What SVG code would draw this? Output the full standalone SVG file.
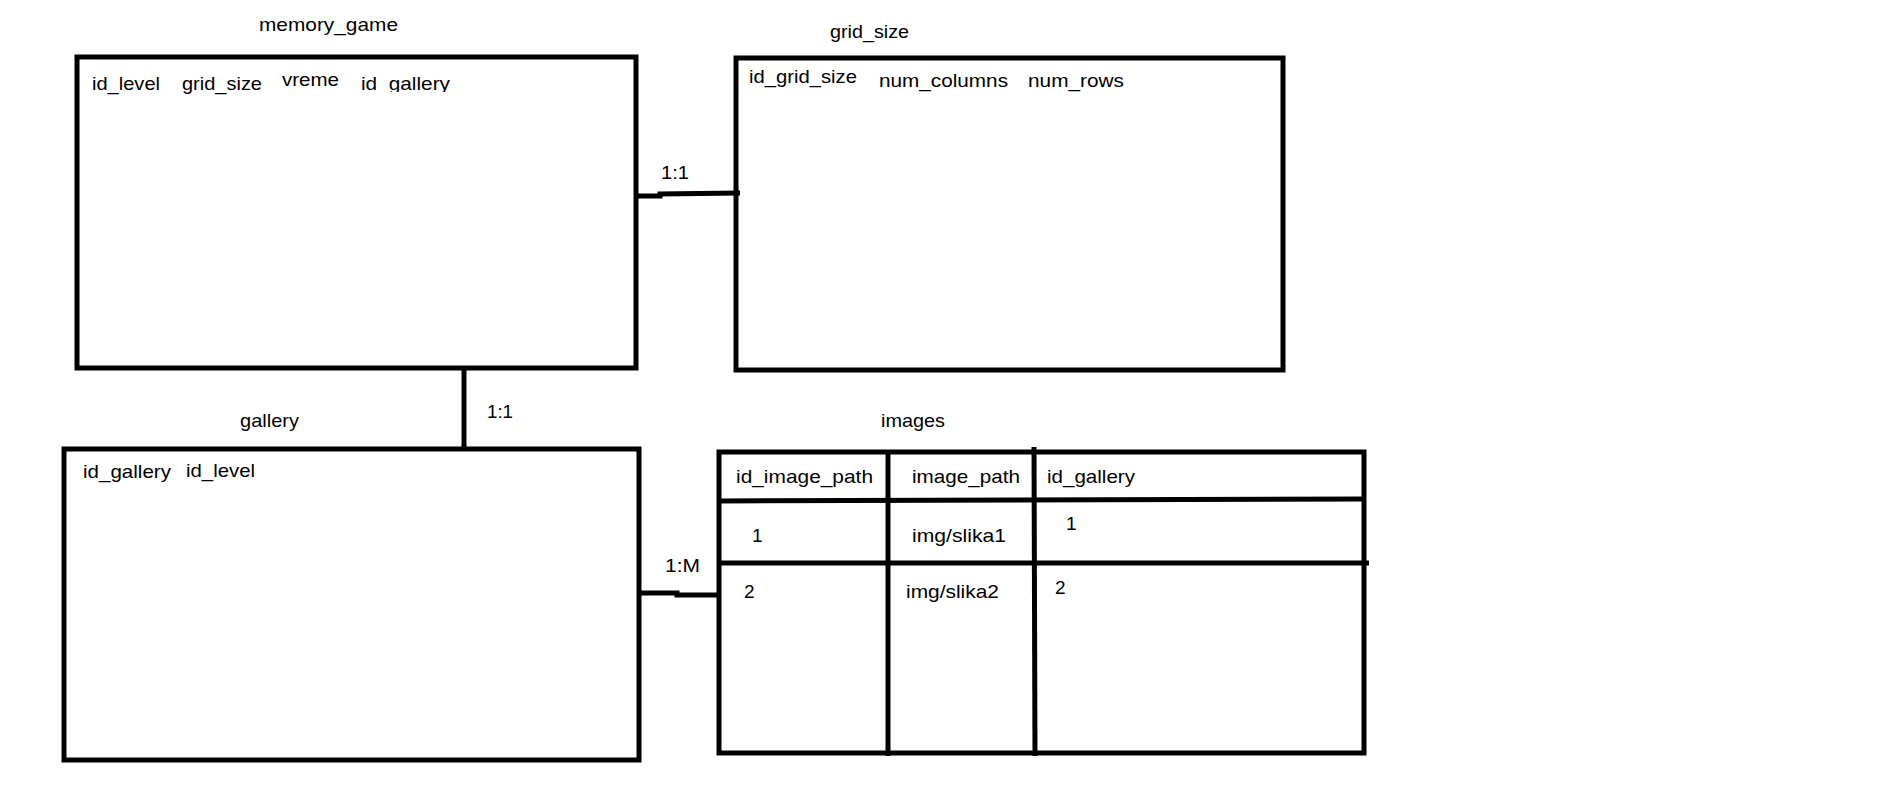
<svg xmlns="http://www.w3.org/2000/svg" width="1891" height="791" viewBox="0 0 1891 791">
<style>
.box{fill:none;stroke:#000;stroke-width:5}
.ln{fill:none;stroke:#000;stroke-width:5}
text{font-family:"Liberation Sans",Arial,sans-serif;font-size:19px;fill:#000}
</style>
<defs>
<clipPath id="clipIdG"><rect x="350" y="60" width="120" height="32"/></clipPath>
</defs>
<rect width="1891" height="791" fill="#fff"/>
<g id="memory_game">
<text x="259" y="31" textLength="139" lengthAdjust="spacingAndGlyphs">memory_game</text>
<rect class="box" x="77" y="57" width="559" height="311"/>
<text x="92" y="90" textLength="68" lengthAdjust="spacingAndGlyphs">id_level</text>
<text x="182" y="90" textLength="80" lengthAdjust="spacingAndGlyphs">grid_size</text>
<text x="282" y="86" textLength="57" lengthAdjust="spacingAndGlyphs">vreme</text>
<text x="361" y="90" textLength="89" lengthAdjust="spacingAndGlyphs" clip-path="url(#clipIdG)">id_gallery</text>
</g>
<g id="grid_size">
<text x="830" y="38" textLength="79" lengthAdjust="spacingAndGlyphs">grid_size</text>
<rect class="box" x="736" y="58" width="547" height="312"/>
<text x="749" y="83" textLength="108" lengthAdjust="spacingAndGlyphs">id_grid_size</text>
<text x="879" y="87" textLength="129" lengthAdjust="spacingAndGlyphs">num_columns</text>
<text x="1028" y="87" textLength="96" lengthAdjust="spacingAndGlyphs">num_rows</text>
</g>
<g id="gallery">
<text x="240" y="427" textLength="59" lengthAdjust="spacingAndGlyphs">gallery</text>
<rect class="box" x="64" y="449" width="575" height="311"/>
<text x="83" y="478" textLength="88" lengthAdjust="spacingAndGlyphs">id_gallery</text>
<text x="186" y="477" textLength="69" lengthAdjust="spacingAndGlyphs">id_level</text>
</g>
<g id="images">
<text x="881" y="427" textLength="64" lengthAdjust="spacingAndGlyphs">images</text>
<rect class="box" x="719" y="452" width="645" height="301"/>
<line class="ln" x1="888" y1="452" x2="888" y2="756"/>
<line class="ln" x1="1034" y1="447" x2="1035" y2="756"/>
<line class="ln" x1="719" y1="501" x2="1364" y2="499"/>
<line class="ln" x1="719" y1="563" x2="1369" y2="563"/>
<text x="736" y="483" textLength="137" lengthAdjust="spacingAndGlyphs">id_image_path</text>
<text x="912" y="483" textLength="108" lengthAdjust="spacingAndGlyphs">image_path</text>
<text x="1047" y="483" textLength="88" lengthAdjust="spacingAndGlyphs">id_gallery</text>
<text x="752" y="542">1</text>
<text x="912" y="542" textLength="94" lengthAdjust="spacingAndGlyphs">img/slika1</text>
<text x="1066" y="530">1</text>
<text x="744" y="598">2</text>
<text x="906" y="598" textLength="93" lengthAdjust="spacingAndGlyphs">img/slika2</text>
<text x="1055" y="594">2</text>
</g>
<g id="connectors">
<polyline class="ln" points="636,196 660,196 660,194 740,193"/>
<text x="661" y="179" textLength="28" lengthAdjust="spacingAndGlyphs">1:1</text>
<line class="ln" x1="464" y1="366" x2="464" y2="449"/>
<text x="487" y="418" textLength="26" lengthAdjust="spacingAndGlyphs">1:1</text>
<polyline class="ln" points="637,593 677,593 677,595 719,595"/>
<text x="665" y="572" textLength="35" lengthAdjust="spacingAndGlyphs">1:M</text>
</g>
</svg>
